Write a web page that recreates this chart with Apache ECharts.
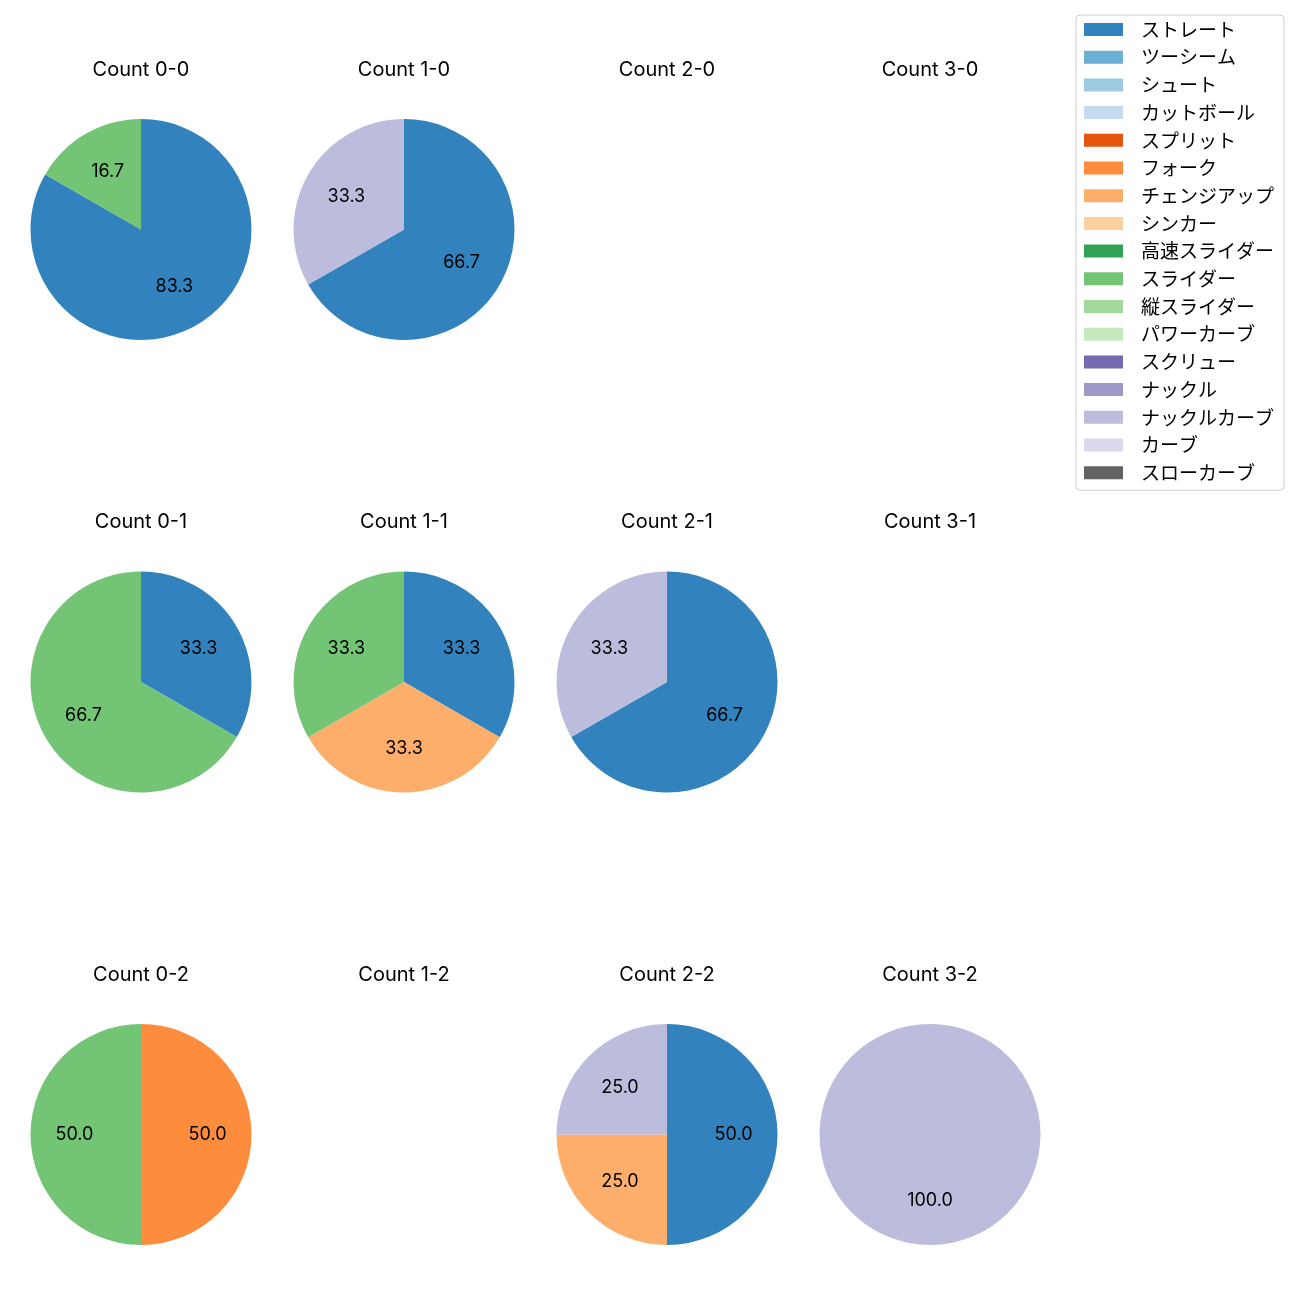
<!DOCTYPE html>
<html><head><meta charset="utf-8">
<script src="https://cdn.jsdelivr.net/npm/echarts@6/dist/echarts.min.js"></script>
<style>html,body{margin:0;padding:0;background:#fff}#c{width:1300px;height:1300px}</style>
</head><body><div id="c"></div>
<script>
const categories = ['ストレート','ツーシーム','シュート','カットボール','スプリット','フォーク','チェンジアップ','シンカー','高速スライダー','スライダー','縦スライダー','パワーカーブ','スクリュー','ナックル','ナックルカーブ','カーブ','スローカーブ'];
const palette = ['#3182bd','#6baed6','#9ecae1','#c6dbef','#e6550d','#fd8d3c','#fdae6b','#fdd0a2','#31a354','#74c476','#a1d99b','#c7e9c0','#756bb1','#9e9ac8','#bcbddc','#dadaeb','#636363'];

const titles = ['Count 0-0','Count 1-0','Count 2-0','Count 3-0','Count 0-1','Count 1-1','Count 2-1','Count 3-1','Count 0-2','Count 1-2','Count 2-2','Count 3-2'];

const names00 = ['ストレート','スライダー'];            const values00 = [83.3, 16.7];
const names10 = ['ストレート','ナックルカーブ'];        const values10 = [66.7, 33.3];
const names20 = [];                                     const values20 = [];
const names30 = [];                                     const values30 = [];
const names01 = ['ストレート','スライダー'];            const values01 = [33.3, 66.7];
const names11 = ['ストレート','チェンジアップ','スライダー']; const values11 = [33.3, 33.3, 33.3];
const names21 = ['ストレート','ナックルカーブ'];        const values21 = [66.7, 33.3];
const names31 = [];                                     const values31 = [];
const names02 = ['フォーク','スライダー'];              const values02 = [50.0, 50.0];
const names12 = [];                                     const values12 = [];
const names22 = ['ストレート','チェンジアップ','ナックルカーブ']; const values22 = [50.0, 25.0, 25.0];
const names32 = ['ナックルカーブ'];                     const values32 = [100.0];

const panelNames = [names00,names10,names20,names30,names01,names11,names21,names31,names02,names12,names22,names32];
const panelValues = [values00,values10,values20,values30,values01,values11,values21,values31,values02,values12,values22,values32];

// layout
const colX = [141, 404, 667, 930];
const rowY = [229.5, 682, 1134.5];
const titleY = [69, 521, 974];
const R = 110.5;
const FONT = 'Inter, "Noto Sans CJK JP", sans-serif';
const JFONT = '"Noto Sans CJK JP", "Noto Sans", sans-serif';
const FS = 19;

const colorOf = n => palette[categories.indexOf(n)];

const series = [];
const title = [];

// hidden series so every category appears in the legend
series.push({
  type: 'pie', silent: true, radius: 0, center: [-500, -500],
  label: {show: false}, labelLine: {show: false},
  data: categories.map(n => ({name: n, value: 1, itemStyle: {color: colorOf(n)}}))
});

titles.forEach((t, i) => {
  const c = i % 4, r = Math.floor(i / 4);
  title.push({
    text: t, left: colX[c], top: titleY[r] - 9, textAlign: 'center', padding: 0,
    textStyle: {fontFamily: FONT, fontSize: 20, lineHeight: 20, fontWeight: 'normal', color: '#000'}
  });
  const nm = panelNames[i], vals = panelValues[i];
  if (!nm.length) return;
  const data = nm.map((n, k) => ({name: n, value: vals[k], itemStyle: {color: colorOf(n)}}));
  series.push({
    type: 'pie', startAngle: 90, clockwise: true, radius: [0, R], center: [colX[c], rowY[r]],
    label: {show: false}, labelLine: {show: false}, emphasis: {disabled: true},
    data: data
  });
  series.push({
    type: 'pie', silent: true, startAngle: 90, clockwise: true, radius: [0, R * 1.15], center: [colX[c], rowY[r]],
    avoidLabelOverlap: false, emphasis: {disabled: true},
    itemStyle: {color: 'rgba(0,0,0,0)', borderWidth: 0},
    label: {show: true, position: 'inside', color: '#000', fontFamily: FONT, fontSize: 18,
      formatter: p => p.value.toFixed(1)},
    labelLine: {show: false},
    data: nm.map((n, k) => ({name: n, value: vals[k], itemStyle: {color: 'rgba(0,0,0,0)'}}))
  });
});

const chart = echarts.init(document.getElementById('c'), null, {renderer: 'canvas'});
chart.setOption({
  animation: false,
  backgroundColor: '#fff',
  title: title,
  legend: {
    data: categories, orient: 'vertical', left: 1076, top: 15,
    padding: [5, 10, 8, 8], itemWidth: 39, itemHeight: 13, itemGap: 8.7,
    icon: 'rect', borderColor: '#cccccc', borderWidth: 1, borderRadius: 4,
    selectedMode: false,
    textStyle: {fontFamily: JFONT, fontSize: FS, lineHeight: 19, color: '#000', padding: [0, 0, 0, 13]}
  },
  series: series
});
</script>
</body></html>
